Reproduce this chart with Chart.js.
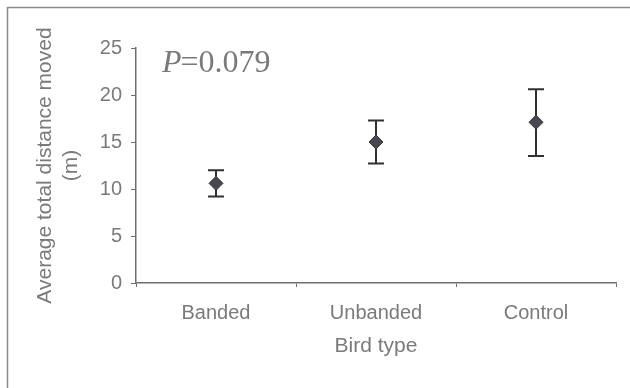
<!DOCTYPE html>
<html>
<head>
<meta charset="utf-8">
<script src="https://cdn.jsdelivr.net/npm/chart.js@4/dist/chart.umd.min.js"></script>
<style>
  html, body { margin: 0; padding: 0; background: #ffffff; }
  #wrap { width: 630px; height: 388px; position: relative; }
</style>
</head>
<body>
<div id="wrap"><canvas id="c"></canvas></div>
<script>
// ---- data ----
const categories = ['Banded', 'Unbanded', 'Control'];
const means = [10.6, 15.0, 17.1];
const errHigh = [12.0, 17.3, 20.6];
const errLow = [9.2, 12.7, 13.5];
const yTicks = [0, 5, 10, 15, 20, 25];
const pLabel = '0.079';
const xTitle = 'Bird type';
const yTitle = ['Average total distance moved', '(m)'];

const gray = '#7a7a7a';
const axisGray = '#6e6e6e';
const sans = '"Liberation Sans", Arial, sans-serif';

const errorBars = {
  id: 'errorBars',
  beforeDatasetsDraw(chart) {
    const ctx = chart.ctx;
    const xs = chart.scales.x, ys = chart.scales.y;
    ctx.save();
    ctx.strokeStyle = '#333033';
    ctx.lineWidth = 2;
    const cap = 8;
    for (let i = 0; i < means.length; i++) {
      const x = xs.getPixelForValue(i);
      const yt = ys.getPixelForValue(errHigh[i]);
      const yb = ys.getPixelForValue(errLow[i]);
      ctx.beginPath();
      ctx.moveTo(x, yt); ctx.lineTo(x, yb);
      ctx.moveTo(x - cap, yt); ctx.lineTo(x + cap, yt);
      ctx.moveTo(x - cap, yb); ctx.lineTo(x + cap, yb);
      ctx.stroke();
    }
    ctx.restore();
  }
};

const frameAndNote = {
  id: 'frameAndNote',
  beforeDraw(chart) {
    const ctx = chart.ctx;
    ctx.save();
    ctx.fillStyle = '#ffffff';
    ctx.fillRect(0, 0, chart.width, chart.height);
    ctx.strokeStyle = '#8a8a8a';
    ctx.lineWidth = 1.5;
    ctx.beginPath();
    ctx.moveTo(7.5, chart.height);
    ctx.lineTo(7.5, 7.5);
    ctx.lineTo(chart.width, 7.5);
    ctx.stroke();
    ctx.restore();
  },
  afterDraw(chart) {
    const ctx = chart.ctx;
    ctx.save();
    ctx.fillStyle = gray;
    ctx.textBaseline = 'alphabetic';
    ctx.textAlign = 'left';
    const x0 = 162, y0 = 72;
    ctx.font = 'italic 32px "Liberation Serif", "DejaVu Serif", serif';
    ctx.fillText('P', x0, y0);
    const w = ctx.measureText('P').width;
    ctx.font = '32px "Liberation Serif", "DejaVu Serif", serif';
    ctx.fillText('=' + pLabel, x0 + w - 1, y0);
    ctx.restore();
  }
};

new Chart(document.getElementById('c'), {
  type: 'line',
  data: {
    labels: categories,
    datasets: [{
      data: means,
      showLine: false,
      pointStyle: 'rectRot',
      pointRadius: 7,
      pointHoverRadius: 7,
      pointBackgroundColor: '#4a474e',
      pointBorderColor: '#39363c',
      pointBorderWidth: 1
    }]
  },
  options: {
    responsive: true,
    maintainAspectRatio: false,
    animation: false,
    events: [],
    layout: { padding: { left: 0, top: 48, right: 14, bottom: 0 } },
    plugins: { legend: { display: false }, tooltip: { enabled: false } },
    scales: {
      x: {
        type: 'category',
        offset: true,
        afterFit(s) { s.height = 105; },
        grid: { offset: true, drawOnChartArea: false, drawTicks: true, tickLength: 4, color: axisGray, lineWidth: 1 },
        border: { display: true, color: axisGray, width: 1.5 },
        ticks: { color: gray, font: { family: sans, size: 20 }, padding: 14 },
        title: { display: true, text: xTitle, color: gray, font: { family: sans, size: 21 }, padding: { top: 0, bottom: 29 } }
      },
      y: {
        min: 0,
        max: 25,
        afterFit(s) { s.width = 136; },
        afterBuildTicks(s) { s.ticks = yTicks.map(v => ({ value: v })); },
        grid: { drawOnChartArea: false, drawTicks: true, tickLength: 5, color: axisGray, lineWidth: 1 },
        border: { display: true, color: axisGray, width: 1.5 },
        ticks: { color: gray, font: { family: sans, size: 20 }, padding: 9 },
        title: { display: true, text: yTitle, color: gray, font: { family: sans, size: 21, lineHeight: '26px' }, padding: { top: 32, bottom: 0 } }
      }
    }
  },
  plugins: [frameAndNote, errorBars]
});
</script>
</body>
</html>
